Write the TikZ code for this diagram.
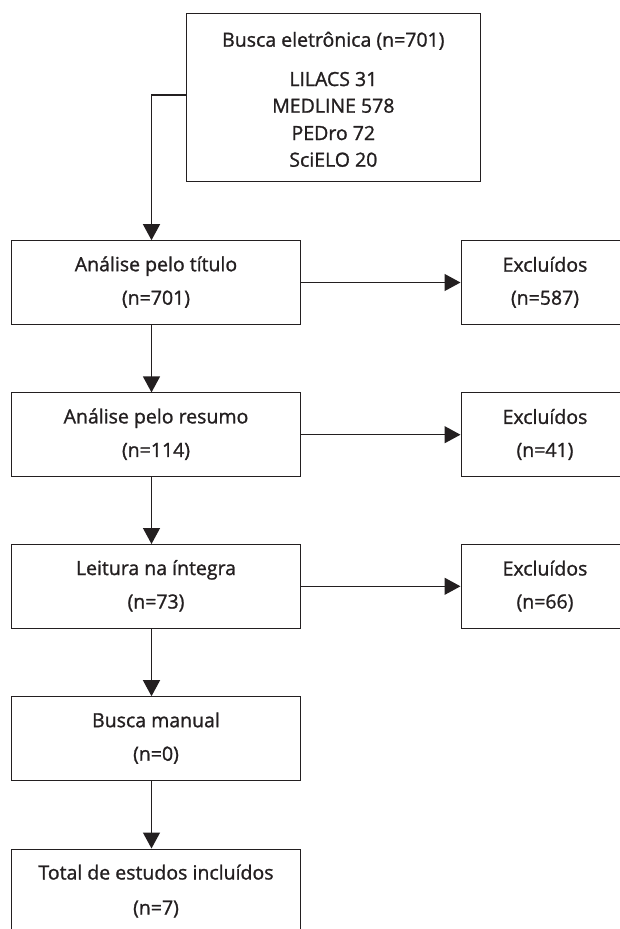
\documentclass[tikz,border=0pt]{standalone}
\usepackage{fontspec}
\setmainfont{Open Sans}[UprightFeatures={FakeBold=1.2}]
\usetikzlibrary{arrows.meta,calc}
\definecolor{ink}{HTML}{231F20}
\begin{document}
\begin{tikzpicture}[x=1pt,y=1pt,
  box/.style={draw=ink, line width=1pt, minimum width=288.6pt, minimum height=83.6pt, inner sep=0pt},
  exbox/.style={draw=ink, line width=1pt, minimum width=170pt, minimum height=83.6pt, inner sep=0pt},
  txt/.style={font=\fontsize{19.5}{22}\selectfont, text=ink, inner sep=0pt, anchor=base},
  arr/.style={draw=ink, line width=1.3pt, -{Triangle[width=17pt,length=16pt]}}]
\useasboundingbox (0,0) rectangle (619,-929);
% top box
\node[draw=ink, line width=1pt, minimum width=293.3pt, minimum height=168.4pt, inner sep=0pt] (top) at (333.35,-97.5) {};
\node[txt] (t0) at (333.35,-46.7) {Busca eletrônica (n=701)};
\node[txt] (t1) at (333.35,-86) {LILACS 31};
\node[txt] (t2) at (333.35,-112.7) {MEDLINE 578};
\node[txt] (t3) at (333.35,-140) {PEDro 72};
\node[txt] (t4) at (333.35,-166.7) {SciELO 20};
% main column
\node[box] (b1) at (156,-282.5) {};
\node[box] (b2) at (156,-434.7) {};
\node[box] (b3) at (156,-586.3) {};
\node[box] (b4) at (156,-738.5) {};
\node[box, minimum height=120pt] (b5) at (156,-909) {};
% excluded
\node[exbox] (e1) at (546,-282.5) {};
\node[exbox] (e2) at (546,-434.7) {};
\node[exbox] (e3) at (546,-586.3) {};
% texts
\node[txt] (l1a) at ($(b1.north)+(0,-31)$) {Análise pelo título};
\node[txt] (l1b) at ($(b1.north)+(0,-64.5)$) {(n=701)};
\node[txt] (l2a) at ($(b2.north)+(0,-31)$) {Análise pelo resumo};
\node[txt] (l2b) at ($(b2.north)+(0,-64.5)$) {(n=114)};
\node[txt] (l3a) at ($(b3.north)+(0,-31)$) {Leitura na íntegra};
\node[txt] (l3b) at ($(b3.north)+(0,-64.5)$) {(n=73)};
\node[txt] (l4a) at ($(b4.north)+(0,-31)$) {Busca manual};
\node[txt] (l4b) at ($(b4.north)+(0,-64.5)$) {(n=0)};
\node[txt] (l5a) at ($(b5.north)+(0,-31)$) {Total de estudos incluídos};
\node[txt] (l5b) at ($(b5.north)+(0,-66)$) {(n=7)};
\node[txt] (x1a) at ($(e1.north)+(-1,-31.5)$) {Excluídos};
\node[txt] (x1b) at ($(e1.north)+(-1,-64.5)$) {(n=587)};
\node[txt] (x2a) at ($(e2.north)+(-1,-31.5)$) {Excluídos};
\node[txt] (x2b) at ($(e2.north)+(-1,-64.5)$) {(n=41)};
\node[txt] (x3a) at ($(e3.north)+(-1,-31.5)$) {Excluídos};
\node[txt] (x3b) at ($(e3.north)+(-1,-64.5)$) {(n=66)};
% connectors
\coordinate (col) at (151.5,0);
\draw[arr] ($(top.west)+(0,2.5)$) -| (col |- b1.north);
\draw[arr] (col |- b1.south) -- (col |- b2.north);
\draw[arr] (col |- b2.south) -- (col |- b3.north);
\draw[arr] (col |- b3.south) -- (col |- b4.north);
\draw[arr] (col |- b4.south) -- (col |- b5.north);
\draw[arr] (b1.east) -- (e1.west);
\draw[arr] (b2.east) -- (e2.west);
\draw[arr] (b3.east) -- (e3.west);
\end{tikzpicture}
\end{document}
